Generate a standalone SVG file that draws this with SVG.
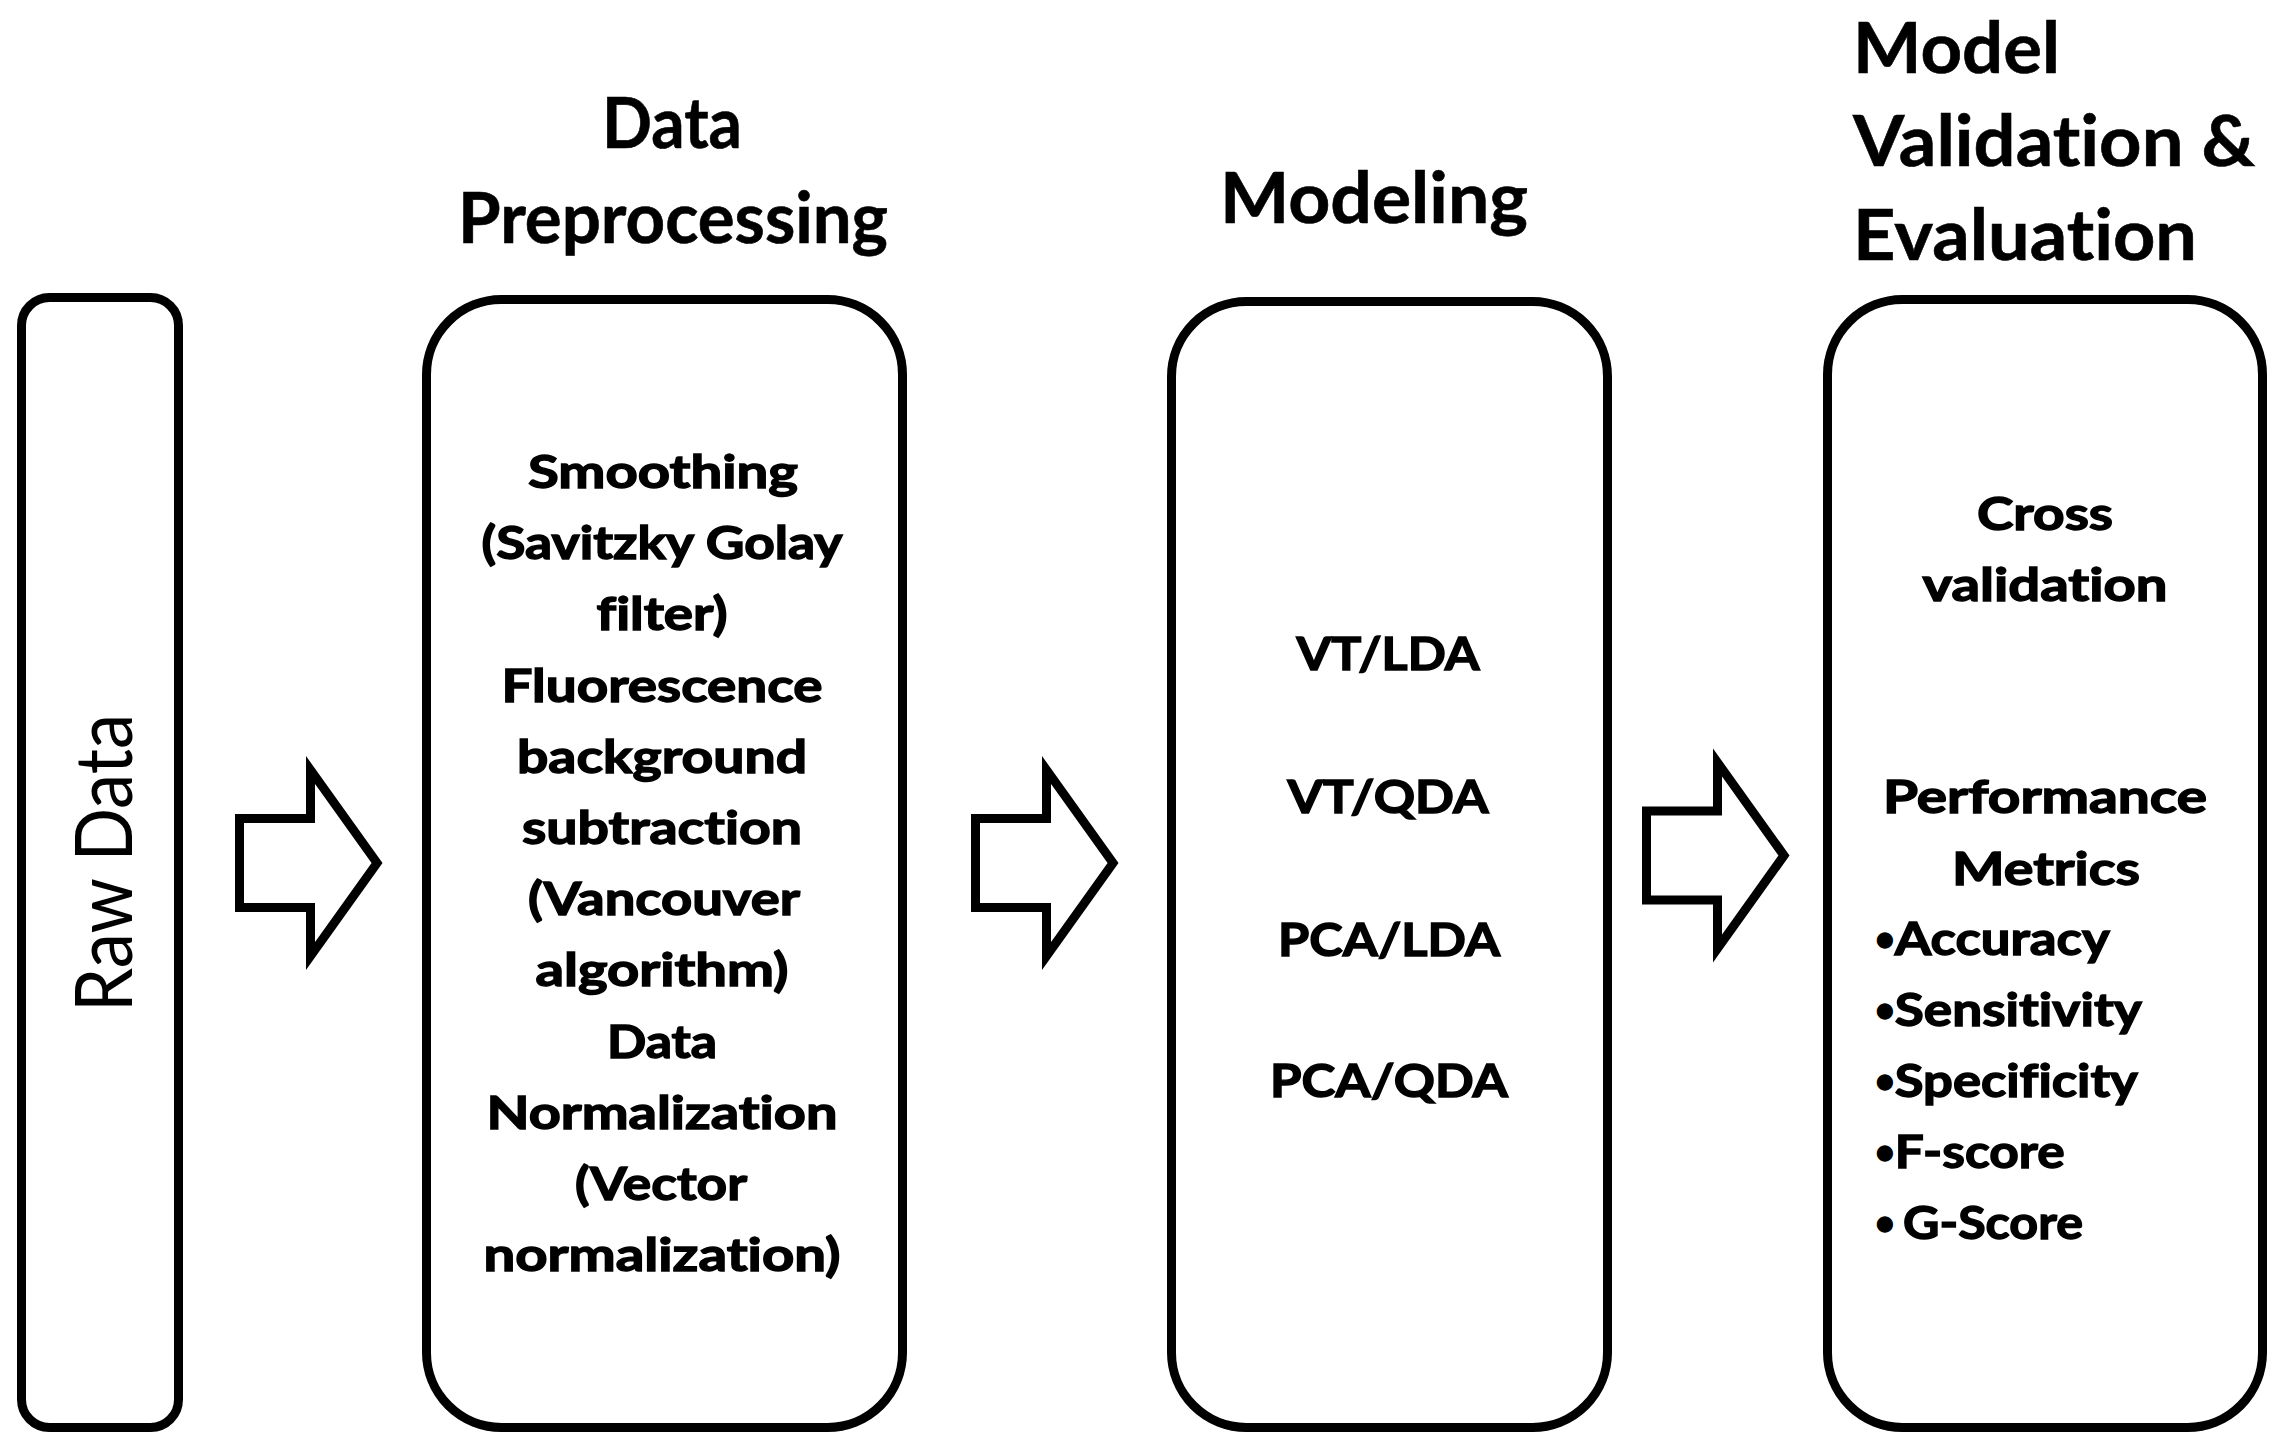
<svg xmlns="http://www.w3.org/2000/svg" width="2269" height="1433" viewBox="0 0 2269 1433">
<style>
.box{fill:#fff;stroke:#000;stroke-width:9}
.arr{fill:#fff;stroke:#000;stroke-width:9;stroke-linejoin:miter}
text{font-variant-ligatures:none}
.hdr{font-family:Lato,"Liberation Sans",Arial,sans-serif;font-weight:bold;font-size:70px;fill:#000;stroke:#000;stroke-width:0.6}
.txt{font-family:Lato,"Liberation Sans",Arial,sans-serif;font-weight:bold;font-size:46px;fill:#000;stroke:#000;stroke-width:1.4}
.raw{font-family:Lato,"Liberation Sans",Arial,sans-serif;font-size:80px;fill:#000}
.c{text-anchor:middle}
.b{font-size:34px}
</style>
<rect width="2269" height="1433" fill="#fff"/>
<g id="connectors">
<polygon class="arr" points="239.5,818.5 310.5,818.5 310.5,770 377,863 310.5,956 310.5,907.5 239.5,907.5"/>
<polygon class="arr" points="975.5,818.5 1046.5,818.5 1046.5,770 1113,863 1046.5,956 1046.5,907.5 975.5,907.5"/>
<polygon class="arr" points="1646.5,811 1717.5,811 1717.5,762.5 1784,855.5 1717.5,948.5 1717.5,900 1646.5,900"/>
</g>
<g id="raw-data">
<rect class="box" x="21.5" y="297.5" width="157" height="1130" rx="28"/>
<text class="raw c" transform="translate(132,863) rotate(-90)" textLength="298" lengthAdjust="spacingAndGlyphs">Raw Data</text>
</g>
<g id="data-preprocessing">
<text class="hdr c" x="672" y="148" textLength="140" lengthAdjust="spacingAndGlyphs">Data</text>
<text class="hdr c" x="673" y="243" textLength="430" lengthAdjust="spacingAndGlyphs">Preprocessing</text>
<rect class="box" x="426.5" y="299.5" width="476" height="1128" rx="75"/>
<text class="txt c" x="663" y="488" textLength="270" lengthAdjust="spacingAndGlyphs">Smoothing</text>
<text class="txt c" x="662" y="559" textLength="361" lengthAdjust="spacingAndGlyphs">(Savitzky Golay</text>
<text class="txt c" x="662" y="630" textLength="131" lengthAdjust="spacingAndGlyphs">filter)</text>
<text class="txt c" x="662" y="702" textLength="321" lengthAdjust="spacingAndGlyphs">Fluorescence</text>
<text class="txt c" x="662" y="773" textLength="290" lengthAdjust="spacingAndGlyphs">background</text>
<text class="txt c" x="662" y="844" textLength="280" lengthAdjust="spacingAndGlyphs">subtraction</text>
<text class="txt c" x="664" y="915" textLength="272" lengthAdjust="spacingAndGlyphs">(Vancouver</text>
<text class="txt c" x="662" y="986" textLength="253" lengthAdjust="spacingAndGlyphs">algorithm)</text>
<text class="txt c" x="662" y="1058" textLength="110" lengthAdjust="spacingAndGlyphs">Data</text>
<text class="txt c" x="662" y="1129" textLength="351" lengthAdjust="spacingAndGlyphs">Normalization</text>
<text class="txt c" x="661" y="1200" textLength="172" lengthAdjust="spacingAndGlyphs">(Vector</text>
<text class="txt c" x="662" y="1271" textLength="357" lengthAdjust="spacingAndGlyphs">normalization)</text>
</g>
<g id="modeling">
<text class="hdr c" x="1374" y="223" textLength="308" lengthAdjust="spacingAndGlyphs">Modeling</text>
<rect class="box" x="1171.5" y="301.5" width="436" height="1126" rx="75"/>
<text class="txt c" x="1388" y="670" textLength="183" lengthAdjust="spacingAndGlyphs">VT/LDA</text>
<text class="txt c" x="1388" y="813" textLength="201" lengthAdjust="spacingAndGlyphs">VT/QDA</text>
<text class="txt c" x="1389" y="956" textLength="222" lengthAdjust="spacingAndGlyphs">PCA/LDA</text>
<text class="txt c" x="1389" y="1097" textLength="238" lengthAdjust="spacingAndGlyphs">PCA/QDA</text>
</g>
<g id="validation">
<text class="hdr" x="1853" y="73" textLength="207" lengthAdjust="spacingAndGlyphs">Model</text>
<text class="hdr" x="1853" y="166" textLength="402" lengthAdjust="spacingAndGlyphs">Validation &amp;</text>
<text class="hdr" x="1853" y="260" textLength="344" lengthAdjust="spacingAndGlyphs">Evaluation</text>
<rect class="box" x="1827.5" y="299.5" width="435" height="1128" rx="75"/>
<text class="txt c" x="2045" y="530" textLength="136" lengthAdjust="spacingAndGlyphs">Cross</text>
<text class="txt c" x="2045" y="601" textLength="245" lengthAdjust="spacingAndGlyphs">validation</text>
<text class="txt c" x="2045" y="813" textLength="324" lengthAdjust="spacingAndGlyphs">Performance</text>
<text class="txt c" x="2046" y="885" textLength="188" lengthAdjust="spacingAndGlyphs">Metrics</text>
<text class="txt" x="1875" y="955"><tspan class="b" dy="-4">•</tspan><tspan dy="4" textLength="215" lengthAdjust="spacingAndGlyphs">Accuracy</tspan></text>
<text class="txt" x="1875" y="1026"><tspan class="b" dy="-4">•</tspan><tspan dy="4" textLength="247" lengthAdjust="spacingAndGlyphs">Sensitivity</tspan></text>
<text class="txt" x="1875" y="1097"><tspan class="b" dy="-4">•</tspan><tspan dy="4" textLength="243" lengthAdjust="spacingAndGlyphs">Specificity</tspan></text>
<text class="txt" x="1875" y="1168"><tspan class="b" dy="-4">•</tspan><tspan dy="4" textLength="170" lengthAdjust="spacingAndGlyphs">F-score</tspan></text>
<text class="txt" x="1875" y="1239"><tspan class="b" dy="-4">• </tspan><tspan dy="4" textLength="180" lengthAdjust="spacingAndGlyphs">G-Score</tspan></text>
</g>
</svg>
